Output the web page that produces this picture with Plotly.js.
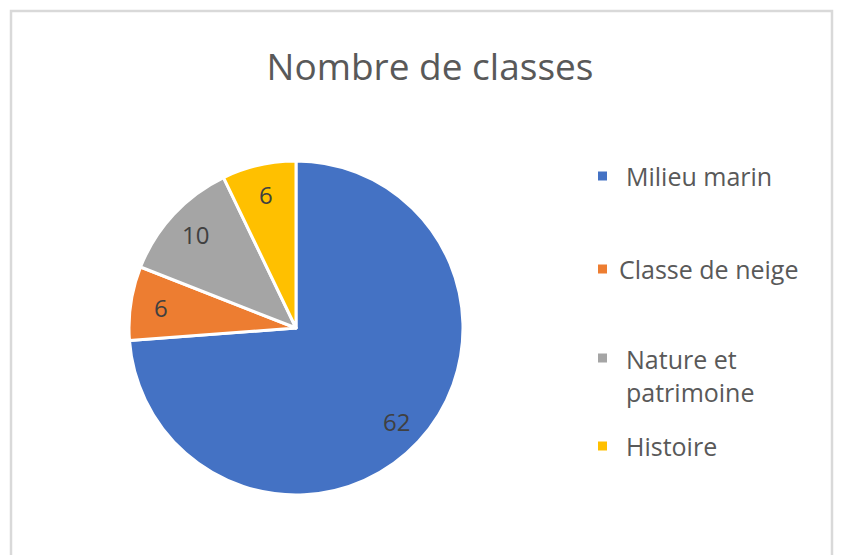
<!DOCTYPE html>
<html>
<head>
<meta charset="utf-8">
<script src="https://cdn.plot.ly/plotly-3.0.1.min.js"></script>
<style>html,body{margin:0;padding:0;background:#fff;}#chart{width:841px;height:555px;}</style>
</head>
<body>
<div id="chart"></div>
<script>
// Data
const categories = ['Milieu marin', 'Classe de neige', 'Nature et patrimoine', 'Histoire'];
const legendText = ['Milieu marin', 'Classe de neige', 'Nature et<br>patrimoine', 'Histoire'];
const values = [62, 6, 10, 6];
const colors = ['#4472C4', '#ED7D31', '#A5A5A5', '#FFC000'];

const W = 841, H = 555;
const px = x => x / W;
const py = y => 1 - y / H;

const FONT = 'Open Sans, sans-serif';

// Pie placement (pixels)
const CX = 296, CY = 328, R = 167;

const trace = {
  type: 'pie',
  labels: categories,
  values: values,
  sort: false,
  direction: 'clockwise',
  rotation: 0,
  marker: { colors: colors, line: { color: '#ffffff', width: 3 } },
  textinfo: 'none',
  domain: { x: [px(CX - R), px(CX + R)], y: [py(CY + R), py(CY - R)] },
  showlegend: false,
  hoverinfo: 'label+value'
};

const annotations = [];
const shapes = [];

// Data labels placed along each slice's bisector (Excel style, ~0.82 R)
const total = values.reduce((a, b) => a + b, 0);
let cum = 0;
values.forEach((v, i) => {
  const mid = (cum + v / 2) / total * 2 * Math.PI;
  cum += v;
  const r = 0.82 * R;
  const x = CX + r * Math.sin(mid);
  const y = CY - r * Math.cos(mid);
  annotations.push({
    xref: 'paper', yref: 'paper', x: px(x), y: py(y),
    xanchor: 'center', yanchor: 'middle', showarrow: false,
    text: String(v),
    font: { family: FONT, size: 24, color: '#404040' }
  });
});

// Legend built from the categories and colours
const legendY = [176, 269, 375, 446];
categories.forEach((c, i) => {
  const lines = legendText[i].split('<br>').length;
  const firstLineY = legendY[i] - (lines - 1) * 17;
  shapes.push({
    type: 'rect', xref: 'paper', yref: 'paper',
    x0: px(598), x1: px(607), y0: py(firstLineY + 4.5), y1: py(firstLineY - 4.5),
    fillcolor: colors[i], line: { width: 0 }
  });
  annotations.push({
    xref: 'paper', yref: 'paper', x: px(i === 1 ? 617 : 624), y: py(legendY[i]),
    xanchor: 'left', yanchor: 'middle', align: 'left', showarrow: false,
    text: legendText[i],
    font: { family: FONT, size: 25, color: '#595959' }
  });
});

// Chart border
shapes.push({
  type: 'rect', xref: 'paper', yref: 'paper',
  x0: px(11), x1: px(832), y0: -0.05, y1: py(11),
  line: { color: '#d9d9d9', width: 2.5 }, fillcolor: 'rgba(0,0,0,0)'
});

const layout = {
  width: W, height: H,
  margin: { l: 0, r: 0, t: 0, b: 0 },
  paper_bgcolor: '#ffffff',
  title: {
    text: 'Nombre de classes',
    x: px(430), y: py(67), xanchor: 'center', yanchor: 'middle',
    font: { family: FONT, size: 37, color: '#595959' }
  },
  shapes: shapes,
  annotations: annotations,
  showlegend: false
};

Plotly.newPlot('chart', [trace], layout, { displayModeBar: false, staticPlot: true });
</script>
</body>
</html>
